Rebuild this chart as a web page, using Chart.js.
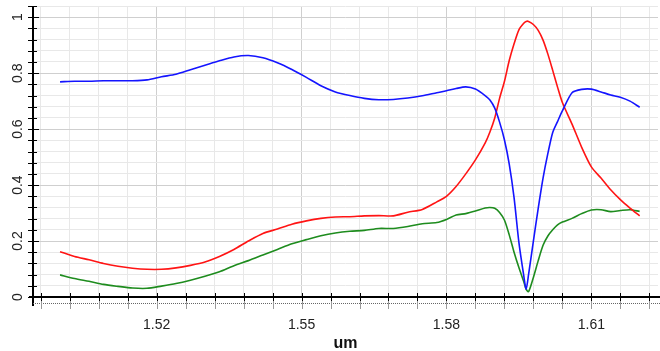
<!DOCTYPE html>
<html>
<head>
<meta charset="utf-8">
<script src="https://cdn.jsdelivr.net/npm/chart.js@4.4.0/dist/chart.umd.min.js"></script>
<style>
  html, body { margin: 0; padding: 0; background: #fff; }
  #wrap { width: 660px; height: 351px; }
</style>
</head>
<body>
<div id="wrap"><canvas id="graph"></canvas></div>
<script>
// wavelength in um
var wavelength = [1.500, 1.503, 1.506, 1.509, 1.512, 1.515, 1.518, 1.521, 1.524, 1.527,
  1.530, 1.533, 1.536, 1.539, 1.542, 1.545, 1.548, 1.551, 1.554, 1.557,
  1.560, 1.563, 1.566, 1.569, 1.572, 1.575, 1.578, 1.580, 1.582, 1.584,
  1.586, 1.588, 1.589, 1.590, 1.591, 1.592, 1.593, 1.594, 1.595, 1.596,
  1.5965, 1.597, 1.598, 1.599, 1.600, 1.601, 1.602, 1.603, 1.604, 1.606,
  1.608, 1.610, 1.612, 1.614, 1.616, 1.618, 1.620];

var blue_data = [0.769, 0.771, 0.771, 0.773, 0.773, 0.773, 0.776, 0.787, 0.796, 0.812,
  0.828, 0.844, 0.858, 0.863, 0.855, 0.837, 0.813, 0.785, 0.755, 0.733,
  0.720, 0.710, 0.705, 0.706, 0.711, 0.719, 0.730, 0.737, 0.745, 0.751,
  0.743, 0.720, 0.704, 0.675, 0.625, 0.562, 0.475, 0.355, 0.195, 0.077,
  0.028, 0.080, 0.200, 0.317, 0.425, 0.513, 0.588, 0.627, 0.665, 0.730,
  0.742, 0.743, 0.733, 0.722, 0.714, 0.700, 0.678];

var red_data = [0.162, 0.145, 0.133, 0.120, 0.110, 0.103, 0.099, 0.099, 0.104, 0.113,
  0.125, 0.145, 0.170, 0.200, 0.227, 0.243, 0.260, 0.272, 0.281, 0.286,
  0.287, 0.290, 0.291, 0.290, 0.303, 0.313, 0.340, 0.360, 0.395, 0.440,
  0.490, 0.550, 0.590, 0.640, 0.710, 0.770, 0.845, 0.905, 0.955, 0.978,
  0.985, 0.985, 0.974, 0.953, 0.918, 0.868, 0.810, 0.750, 0.695, 0.618,
  0.535, 0.465, 0.425, 0.383, 0.348, 0.318, 0.290];

var green_data = [0.079, 0.066, 0.056, 0.045, 0.038, 0.032, 0.031, 0.039, 0.048, 0.060,
  0.074, 0.090, 0.112, 0.130, 0.150, 0.170, 0.190, 0.205, 0.219, 0.229,
  0.235, 0.238, 0.245, 0.245, 0.252, 0.262, 0.266, 0.277, 0.293, 0.298,
  0.307, 0.318, 0.320, 0.317, 0.302, 0.275, 0.222, 0.160, 0.105, 0.055,
  0.028, 0.019, 0.070, 0.130, 0.185, 0.218, 0.240, 0.258, 0.268, 0.281,
  0.298, 0.311, 0.312, 0.305, 0.309, 0.312, 0.306];

var x_tick_labels = ['1.52', '1.55', '1.58', '1.61'];
var y_tick_labels = ['0', '0.2', '0.4', '0.6', '0.8', '1'];
var x_title = 'um';

function points(values) {
    return wavelength.map(function (w, i) { return { x: w, y: values[i] }; });
}

function is_major_x(v) {
    return x_tick_labels.indexOf(v.toFixed(2)) >= 0 && Math.abs(v - Number(v.toFixed(2))) < 1e-6;
}
function is_major_y(v) {
    return Math.abs(v / 0.2 - Math.round(v / 0.2)) < 1e-6;
}

// draws the axis lines, crossing ticks, dotted rule and rotated y labels
var axis_marks = {
    id: 'axis_marks',
    afterDatasetsDraw: function (chart) {
        var ctx = chart.ctx, a = chart.chartArea;
        var xs = chart.scales.x, ys = chart.scales.y;
        var bottom = Math.round(a.bottom), left = Math.round(a.left);
        ctx.save();
        ctx.strokeStyle = '#000';
        ctx.lineWidth = 2;
        ctx.beginPath();
        ctx.moveTo(left - 4, bottom); ctx.lineTo(chart.width, bottom);
        ctx.moveTo(left, Math.round(a.top)); ctx.lineTo(left, bottom + 9);
        ctx.stroke();

        ctx.lineWidth = 1;
        ctx.beginPath();
        xs.ticks.forEach(function (t) {
            var px = Math.round(xs.getPixelForValue(t.value)) + 0.5;
            ctx.moveTo(px, bottom - 4); ctx.lineTo(px, bottom + 4);
        });
        ys.ticks.forEach(function (t) {
            var py = Math.round(ys.getPixelForValue(t.value)) + 0.5;
            var w = is_major_y(t.value) ? 6 : 4;
            ctx.moveTo(left - 5, py); ctx.lineTo(left + w, py);
        });
        ctx.stroke();

        // dotted rule under the axis
        ctx.strokeStyle = '#666';
        ctx.setLineDash([1, 1]);
        ctx.beginPath();
        ctx.moveTo(left, bottom + 6.5); ctx.lineTo(chart.width, bottom + 6.5);
        ctx.stroke();
        ctx.setLineDash([]);
        ctx.strokeStyle = '#999';
        ctx.beginPath();
        xs.ticks.forEach(function (t) {
            var px = Math.round(xs.getPixelForValue(t.value)) + 0.5;
            ctx.moveTo(px, bottom + 4); ctx.lineTo(px, bottom + 12);
        });
        ctx.stroke();

        ctx.fillStyle = '#222';
        ctx.font = '14px "Liberation Sans", Arial, sans-serif';
        ctx.textAlign = 'center';
        ctx.textBaseline = 'middle';
        y_tick_labels.forEach(function (lab) {
            var py = ys.getPixelForValue(Number(lab));
            ctx.save();
            ctx.translate(18, py);
            ctx.rotate(-Math.PI / 2);
            ctx.fillText(lab, 0, 0);
            ctx.restore();
        });
        ctx.restore();
    }
};

var chart_context = document.getElementById('graph').getContext('2d');
var chart = new Chart(chart_context, {
    type: 'line',
    data: {
        datasets: [{
            data: points(blue_data),
            borderColor: 'rgb(20,20,255)',
        }, {
            data: points(red_data),
            borderColor: 'rgb(255,20,20)',
        }, {
            data: points(green_data),
            borderColor: 'rgb(30,140,30)',
        }]
    },
    options: {
        responsive: true,
        maintainAspectRatio: false,
        animation: false,
        events: [],
        layout: { padding: { top: 6, right: 2, left: 0, bottom: 0 } },
        elements: {
            point: { radius: 0 },
            line: { borderWidth: 1.6, tension: 0.25, fill: false }
        },
        plugins: { legend: { display: false }, tooltip: { enabled: false } },
        scales: {
            x: {
                type: 'linear',
                min: 1.4944,
                max: 1.6238,
                afterBuildTicks: function (scale) {
                    var ticks = [];
                    for (var i = 0; i <= 21; i++) ticks.push({ value: 1.496 + i * 0.006 });
                    scale.ticks = ticks;
                },
                afterFit: function (scale) {
                    scale.height = 54;
                    scale.paddingLeft = 0;
                    scale.paddingRight = 0;
                },
                border: { display: false },
                grid: {
                    drawTicks: false,
                    color: function (c) { return c.tick && is_major_x(c.tick.value) ? '#cfcfcf' : '#e8e8e8'; }
                },
                ticks: {
                    autoSkip: false,
                    maxRotation: 0,
                    padding: 20,
                    color: '#222',
                    font: { family: '"Liberation Sans", Arial, sans-serif', size: 14 },
                    callback: function (v) {
                        return is_major_x(v) ? v.toFixed(2) : '';
                    }
                },
                title: {
                    display: true,
                    text: x_title,
                    color: '#111',
                    font: { family: '"Liberation Sans", Arial, sans-serif', size: 16, weight: 'bold', lineHeight: 1 },
                    padding: { top: 0, bottom: -1 }
                }
            },
            y: {
                min: 0,
                max: 1.04,
                afterBuildTicks: function (scale) {
                    var ticks = [];
                    for (var i = 0; i <= 26; i++) ticks.push({ value: i * 0.04 });
                    scale.ticks = ticks;
                },
                afterFit: function (scale) { scale.width = 33; },
                border: { display: false },
                grid: {
                    drawTicks: false,
                    color: function (c) { return c.tick && is_major_y(c.tick.value) ? '#cfcfcf' : '#e8e8e8'; }
                },
                ticks: { display: false }
            }
        }
    },
    plugins: [axis_marks]
});
</script>
</body>
</html>
